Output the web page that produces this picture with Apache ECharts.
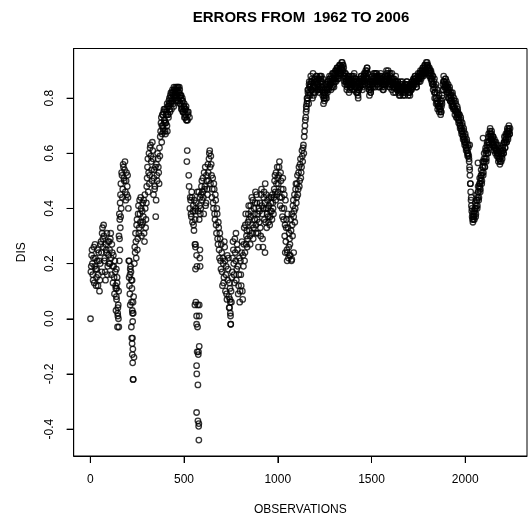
<!DOCTYPE html>
<html>
<head>
<meta charset="utf-8">
<script src="https://cdn.jsdelivr.net/npm/echarts@6/dist/echarts.min.js"></script>
<style>html,body{margin:0;padding:0;background:#fff}#chart{width:529px;height:521px}</style>
</head>
<body>
<div id="chart"></div>
<script>
// Observations are read every 4th index in offset passes: obs = offset + step * i
const obsStep = 4;
// Pass 1 (offset 1): observations 1..597
const disP1a = [
 0.00,0.19,0.25,0.16,0.22,0.13,0.27,0.18,0.15,0.21,0.12,0.24,0.10,0.20,0.28,0.17,0.33,0.26,0.30,0.22,0.14,0.25,0.31,0.19,0.23,
 0.28,0.20,0.31,0.16,0.24,0.13,0.19,0.09,0.17,0.03,0.11,-0.03,0.05,0.30,0.36,0.45,0.40,0.52,0.47,0.55,0.50,0.57,0.43,0.53,0.48,
 0.44,0.21,0.12,0.05,0.17,-0.07,0.02,-0.22,-0.14,0.26,0.31,0.22,0.36,0.29,0.41,0.33,0.38,0.44,0.30,0.39,0.35,0.43,0.28,0.40,0.36,
 0.48,0.55,0.46,0.60,0.52,0.63,0.57,0.50,0.61,0.45,0.54,0.48,0.37,0.56,0.50,0.58,0.53,0.62,0.66,0.71,0.64,0.74,0.69,0.76,0.72,
 0.67,0.74,0.70,0.77,0.73,0.78,0.75,0.80,0.76,0.79,0.82,0.77,0.81,0.83,0.79,0.84,0.82,0.84,0.80,0.83,0.78,0.81,0.76,0.79,0.75,
 0.78,0.74,0.76,0.72,0.61,0.74,0.52,0.73,0.44,0.38,0.46,0.35,0.41,0.32,0.39,0.27,0.42,0.19,0.05,-0.12,0.36,0.44,0.40,0.48,0.43
];
// Pass 1: observations 601..1197
const disP1b = [
 0.51,0.38,0.47,0.55,0.42,0.50,0.45,0.53,0.58,0.61,0.49,0.56,0.44,0.51,0.40,0.47,0.36,0.43,0.31,0.38,0.27,0.33,0.22,0.29,0.18,
 0.24,0.12,0.20,0.15,0.26,0.10,0.19,0.07,0.14,0.22,0.04,0.11,-0.02,0.06,0.17,0.28,0.20,0.13,0.24,0.31,0.18,0.25,0.09,0.16,0.06,
 0.21,0.12,0.28,0.07,0.19,0.33,0.24,0.38,0.30,0.26,0.35,0.41,0.32,0.27,0.37,0.44,0.34,0.29,0.40,0.36,0.46,0.31,0.42,0.38,0.26,
 0.35,0.42,0.30,0.47,0.38,0.26,0.44,0.36,0.49,0.40,0.33,0.43,0.37,0.41,0.34,0.39,0.44,0.36,0.42,0.38,0.47,0.52,0.43,0.49,0.55,
 0.46,0.52,0.57,0.41,0.50,0.44,0.37,0.47,0.40,0.30,0.43,0.33,0.25,0.38,0.22,0.31,0.27,0.36,0.21,0.34,0.41,0.37,0.45,0.40,0.49,
 0.44,0.52,0.47,0.55,0.50,0.58,0.53,0.61,0.57,0.63,0.66,0.70,0.73,0.76,0.79,0.82,0.78,0.84,0.81,0.86,0.83,0.80,0.85,0.82,0.87
];
// Pass 1: observations 1201..1797
const disP1c = [
 0.84,0.88,0.85,0.83,0.87,0.82,0.86,0.84,0.88,0.85,0.87,0.80,0.79,0.83,0.81,0.84,0.82,0.86,0.84,0.87,0.85,0.88,0.86,0.84,0.87,
 0.89,0.86,0.90,0.88,0.91,0.87,0.90,0.92,0.89,0.91,0.93,0.90,0.92,0.88,0.85,0.89,0.86,0.84,0.88,0.85,0.87,0.83,0.86,0.84,0.88,
 0.85,0.88,0.83,0.87,0.84,0.82,0.86,0.80,0.84,0.87,0.85,0.88,0.86,0.84,0.87,0.89,0.86,0.90,0.88,0.91,0.87,0.84,0.81,0.86,0.83,
 0.85,0.88,0.84,0.87,0.89,0.86,0.88,0.85,0.87,0.84,0.88,0.86,0.89,0.85,0.87,0.83,0.86,0.84,0.87,0.85,0.89,0.86,0.90,0.87,0.84,
 0.88,0.85,0.89,0.86,0.82,0.87,0.84,0.88,0.85,0.83,0.86,0.82,0.84,0.81,0.85,0.83,0.86,0.82,0.84,0.81,0.85,0.83,0.86,0.84,0.82,
 0.84,0.81,0.85,0.83,0.86,0.84,0.87,0.85,0.88,0.86,0.84,0.87,0.89,0.86,0.88,0.90,0.87,0.89,0.91,0.88,0.90,0.92,0.89,0.91,0.93
];
// Pass 1: observations 1801..2237
const disP1d = [
 0.92,0.90,0.91,0.88,0.90,0.86,0.88,0.83,0.86,0.80,0.84,0.78,0.82,0.76,0.80,0.75,0.78,0.74,0.77,0.81,0.85,0.88,0.84,0.87,0.83,
 0.86,0.82,0.85,0.80,0.84,0.79,0.82,0.77,0.81,0.76,0.79,0.74,0.78,0.73,0.77,0.75,0.71,0.74,0.69,0.72,0.67,0.70,0.65,0.68,0.63,
 0.66,0.61,0.64,0.59,0.62,0.57,0.52,0.46,0.41,0.37,0.35,0.39,0.36,0.42,0.38,0.45,0.41,0.48,0.44,0.51,0.47,0.54,0.50,0.57,0.53,
 0.60,0.55,0.62,0.58,0.64,0.60,0.67,0.62,0.69,0.65,0.68,0.63,0.66,0.61,0.64,0.60,0.63,0.59,0.61,0.57,0.60,0.56,0.59,0.62,0.58,
 0.63,0.60,0.66,0.62,0.67,0.64,0.69,0.66,0.70,0.67
];
// Pass 2 (offset 3): observations 3..599
const disP2a = [
 0.17,0.23,0.20,0.14,0.26,0.19,0.22,0.12,0.18,0.25,0.16,0.21,0.14,0.27,0.24,0.31,0.29,0.34,0.21,0.17,0.27,0.24,0.16,0.28,0.20,
 0.25,0.29,0.22,0.27,0.19,0.23,0.15,0.21,0.12,0.08,0.15,0.01,0.10,0.38,0.42,0.49,0.53,0.44,0.56,0.51,0.54,0.46,0.50,0.45,0.52,
 0.40,0.15,0.09,0.19,-0.03,0.14,-0.11,0.08,0.20,0.24,0.28,0.34,0.25,0.38,0.31,0.43,0.35,0.40,0.34,0.42,0.37,0.31,0.45,0.33,0.42,
 0.51,0.58,0.53,0.49,0.62,0.59,0.54,0.64,0.58,0.51,0.47,0.55,0.43,0.52,0.60,0.55,0.49,0.59,0.68,0.73,0.67,0.70,0.75,0.71,0.68,
 0.71,0.76,0.68,0.74,0.79,0.76,0.81,0.78,0.82,0.80,0.78,0.83,0.80,0.84,0.81,0.83,0.79,0.82,0.84,0.81,0.80,0.77,0.80,0.75,0.77,
 0.76,0.73,0.77,0.57,0.72,0.75,0.48,0.40,0.43,0.37,0.44,0.39,0.34,0.43,0.36,0.40,0.23,0.46,0.39,0.46,0.41,0.38,0.45,0.50,0.46
];
// Pass 2: observations 603..1199
const disP2b = [
 0.44,0.53,0.48,0.41,0.52,0.47,0.56,0.50,0.60,0.55,0.59,0.52,0.47,0.42,0.49,0.38,0.45,0.34,0.40,0.29,0.35,0.25,0.31,0.21,0.27,
 0.17,0.22,0.13,0.28,0.21,0.16,0.09,0.23,0.18,0.08,0.13,0.02,0.10,0.15,0.22,0.25,0.16,0.29,0.21,0.14,0.27,0.19,0.12,0.22,0.10,
 0.16,0.24,0.10,0.23,0.27,0.21,0.34,0.27,0.32,0.29,0.38,0.36,0.30,0.41,0.39,0.31,0.43,0.33,0.38,0.42,0.34,0.45,0.36,0.31,0.40,
 0.39,0.33,0.45,0.41,0.29,0.40,0.46,0.42,0.35,0.45,0.38,0.40,0.35,0.44,0.37,0.42,0.39,0.45,0.40,0.44,0.50,0.46,0.53,0.45,0.51,
 0.49,0.55,0.44,0.53,0.47,0.40,0.51,0.36,0.45,0.34,0.28,0.36,0.24,0.33,0.26,0.29,0.23,0.32,0.38,0.30,0.43,0.39,0.35,0.47,0.42,
 0.49,0.45,0.53,0.48,0.56,0.51,0.55,0.59,0.62,0.60,0.68,0.72,0.75,0.78,0.80,0.83,0.85,0.82,0.85,0.83,0.87,0.84,0.81,0.86,0.84
];
// Pass 2: observations 1203..1799
const disP2c = [
 0.86,0.83,0.87,0.85,0.84,0.88,0.83,0.87,0.86,0.84,0.82,0.81,0.82,0.80,0.85,0.83,0.85,0.83,0.87,0.85,0.86,0.84,0.87,0.89,0.85,
 0.87,0.89,0.86,0.90,0.88,0.91,0.88,0.90,0.92,0.89,0.91,0.92,0.89,0.86,0.88,0.87,0.85,0.87,0.86,0.88,0.84,0.85,0.87,0.86,0.85,
 0.87,0.85,0.86,0.84,0.86,0.84,0.82,0.83,0.86,0.84,0.87,0.85,0.87,0.85,0.88,0.87,0.89,0.87,0.90,0.89,0.85,0.83,0.84,0.82,0.86,
 0.86,0.85,0.86,0.88,0.87,0.89,0.86,0.88,0.86,0.86,0.87,0.88,0.87,0.86,0.85,0.85,0.85,0.86,0.86,0.87,0.88,0.88,0.89,0.85,0.86,
 0.86,0.87,0.87,0.84,0.85,0.85,0.86,0.86,0.84,0.85,0.84,0.83,0.83,0.83,0.84,0.85,0.84,0.83,0.83,0.83,0.84,0.85,0.85,0.83,0.83,
 0.82,0.83,0.84,0.85,0.85,0.86,0.86,0.87,0.87,0.85,0.86,0.88,0.87,0.87,0.89,0.88,0.88,0.90,0.89,0.89,0.91,0.90,0.90,0.92,0.92
];
// Pass 2: observations 1803..2239
const disP2d = [
 0.91,0.89,0.90,0.89,0.87,0.87,0.85,0.85,0.82,0.82,0.80,0.80,0.78,0.78,0.77,0.77,0.76,0.75,0.79,0.83,0.86,0.86,0.85,0.85,0.84,
 0.84,0.83,0.82,0.82,0.81,0.80,0.79,0.79,0.78,0.77,0.76,0.76,0.75,0.75,0.74,0.73,0.72,0.71,0.70,0.69,0.68,0.67,0.66,0.65,0.64,
 0.63,0.62,0.61,0.60,0.59,0.55,0.49,0.43,0.39,0.36,0.37,0.37,0.39,0.40,0.41,0.43,0.44,0.46,0.48,0.49,0.51,0.52,0.53,0.55,0.57,
 0.57,0.58,0.60,0.61,0.62,0.64,0.64,0.66,0.67,0.66,0.65,0.64,0.63,0.62,0.62,0.61,0.61,0.60,0.59,0.58,0.58,0.57,0.60,0.60,0.61,
 0.61,0.64,0.64,0.65,0.65,0.67,0.67,0.68,0.68,0.69
];
// Pass 3 (dense stretches): observations 382..518
const disP3peak = [
 0.70,0.74,0.68,0.72,0.76,0.71,0.75,0.78,0.74,0.77,0.80,0.78,0.82,0.79,0.83,0.81,0.84,0.82,0.80,0.83,0.81,0.84,0.79,0.82,0.78,
 0.81,0.76,0.79,0.75,0.77,0.73,0.76,0.74,0.72,0.75
];
const disP3peakStart = 382;
// Pass 3: observations 1152..2236
const disP3late = [
 0.77,0.80,0.83,0.81,0.86,0.84,0.88,0.83,0.86,0.89,0.84,0.87,0.82,0.86,0.88,0.85,0.83,0.87,0.84,0.88,0.86,0.83,0.81,0.78,0.80,
 0.82,0.85,0.80,0.83,0.86,0.84,0.88,0.85,0.83,0.87,0.89,0.86,0.84,0.88,0.90,0.87,0.91,0.89,0.87,0.90,0.92,0.89,0.91,0.93,0.90,
 0.91,0.87,0.89,0.86,0.83,0.87,0.85,0.82,0.86,0.84,0.88,0.85,0.83,0.86,0.89,0.84,0.87,0.82,0.85,0.81,0.83,0.86,0.84,0.88,0.86,
 0.83,0.86,0.88,0.85,0.89,0.87,0.91,0.89,0.86,0.83,0.85,0.82,0.84,0.87,0.85,0.89,0.86,0.84,0.87,0.89,0.85,0.88,0.86,0.84,0.87,
 0.88,0.84,0.86,0.83,0.85,0.88,0.86,0.90,0.88,0.85,0.87,0.84,0.89,0.86,0.83,0.85,0.87,0.84,0.86,0.82,0.85,0.83,0.86,0.84,0.81,
 0.83,0.86,0.82,0.84,0.81,0.83,0.85,0.82,0.84,0.86,0.83,0.81,0.84,0.82,0.85,0.83,0.86,0.84,0.87,0.85,0.88,0.86,0.84,0.86,0.88,
 0.87,0.89,0.86,0.88,0.90,0.88,0.91,0.89,0.92,0.90,0.93,0.91,0.89,0.91,0.88,0.90,0.87,0.89,0.85,0.88,0.84,0.87,0.82,0.85,0.79,
 0.83,0.77,0.81,0.76,0.79,0.75,0.78,0.80,0.83,0.86,0.84,0.87,0.85,0.82,0.84,0.80,0.83,0.79,0.81,0.78,0.82,0.77,0.80,0.76,0.79,
 0.75,0.73,0.76,0.72,0.74,0.70,0.73,0.68,0.71,0.66,0.69,0.64,0.67,0.62,0.65,0.60,0.63,0.58,0.54,0.49,0.44,0.40,0.38,0.36,0.38,
 0.40,0.37,0.43,0.40,0.46,0.43,0.49,0.46,0.52,0.49,0.55,0.52,0.58,0.55,0.61,0.57,0.63,0.60,0.66,0.63,0.68,0.65,0.67,0.64,0.66,
 0.63,0.65,0.62,0.64,0.61,0.63,0.60,0.62,0.58,0.61,0.57,0.59,0.62,0.60,0.64,0.62,0.66,0.64,0.68,0.65,0.69,0.67
];
const disP3lateStart = 1152;
// Additional individual observations [observation, DIS] (sparse excursions)
const extraPoints = [
 [136,0.11],[140,0.07],[143,0.13],[146,0.02],[147,0.04],[150,0.00],[152,-0.03],[139,0.18],[155,0.21],[158,0.25],[160,0.33],[162,0.37],[156,0.29],
 [208,0.21],[213,0.18],[219,0.14],[222,0.11],[228,0.06],[224,0.03],[229,0.02],[226,-0.01],[225,-0.07],[223,-0.09],[224,-0.13],[226,-0.16],[228,-0.22],[212,0.16],[220,0.06],
 [558,0.27],[561,0.26],[585,0.25],[584,0.22],[586,0.19],[561,0.18],[563,0.06],[558,0.05],[581,0.05],[567,0.01],[581,0.01],[567,-0.02],[572,-0.03],[581,-0.10],[570,-0.12],[576,-0.13],[567,-0.17],[568,-0.20],[574,-0.24],[567,-0.34],[574,-0.37],[579,-0.38],[578,-0.39],[579,-0.44],
 [745,0.07],[743,0.04],[748,0.01],[749,-0.02],[747,0.06],
 [932,0.24],[1040,0.24],[1050,0.21],[1062,0.23],[1075,0.215],[1085,0.24],
 [1935,0.77],[1961,0.745],[2015,0.595],[2024,0.63],[2068,0.565],[2077,0.475],[2082,0.50],[2095,0.655]
];
const xTicks = [0, 500, 1000, 1500, 2000];
const yTicks = [-0.4, -0.2, 0.0, 0.2, 0.4, 0.6, 0.8];
const titleText = 'ERRORS FROM  1962 TO 2006';
const xTitle = 'OBSERVATIONS';
const yTitle = 'DIS';

const X_MIN = -88.6, X_MAX = 2329.6, Y_MIN = -0.4977, Y_MAX = 0.98;

const withObs = (arr, start) => arr.map((v, i) => [start + obsStep * i, v]);
const points = []
  .concat(withObs(disP1a.concat(disP1b, disP1c, disP1d), 1))
  .concat(withObs(disP2a.concat(disP2b, disP2c, disP2d), 3))
  .concat(withObs(disP3peak, disP3peakStart))
  .concat(withObs(disP3late, disP3lateStart))
  .concat(extraPoints);

const FONT = 'Liberation Sans, Arial, Helvetica, sans-serif';
const chart = echarts.init(document.getElementById('chart'), null, {renderer: 'canvas'});
chart.setOption({
  animation: false,
  backgroundColor: '#fff',
  graphic: [{
    type: 'text', x: 301, y: 18, silent: true,
    style: {text: titleText, textAlign: 'center', textVerticalAlign: 'middle',
            font: 'bold 15px ' + FONT, fill: '#000'}
  }],
  grid: {left: 73.7, right: 2, top: 48.5, bottom: 63, show: true, borderColor: '#000', borderWidth: 1, backgroundColor: 'transparent'},
  xAxis: {
    type: 'value', min: X_MIN, max: X_MAX, position: 'bottom',
    splitLine: {show: false},
    axisLine: {show: true, onZero: false, lineStyle: {color: '#000', width: 1}},
    axisTick: {show: true, inside: false, length: 7, customValues: xTicks, lineStyle: {color: '#000', width: 1}},
    axisLabel: {show: true, customValues: xTicks, margin: 18, fontFamily: FONT, fontSize: 12, color: '#000', formatter: v => String(v)},
    name: xTitle, nameLocation: 'middle', nameGap: 48,
    nameTextStyle: {fontFamily: FONT, fontSize: 12, color: '#000'}
  },
  yAxis: {
    type: 'value', min: Y_MIN, max: Y_MAX, position: 'left',
    splitLine: {show: false},
    axisLine: {show: true, onZero: false, lineStyle: {color: '#000', width: 1}},
    axisTick: {show: true, inside: false, length: 7, customValues: yTicks, lineStyle: {color: '#000', width: 1}},
    axisLabel: {show: true, customValues: yTicks, rotate: 90, margin: 18, fontFamily: FONT, fontSize: 12, color: '#000', formatter: v => v.toFixed(1)},
    name: yTitle, nameLocation: 'middle', nameGap: 46, nameRotate: 90,
    nameTextStyle: {fontFamily: FONT, fontSize: 12, color: '#000'}
  },
  series: [{
    type: 'scatter',
    data: points,
    symbol: 'circle',
    symbolSize: 5.5,
    itemStyle: {color: 'rgba(0,0,0,0)', borderColor: '#000', borderWidth: 1.3},
    emphasis: {disabled: true},
    silent: true
  }, {
    // outward tick marks under the x axis at the tick values
    type: 'scatter', clip: false, silent: true,
    data: xTicks.map(v => [v, Y_MIN]),
    symbol: 'rect', symbolSize: [1, 7], symbolOffset: [0, 3.5],
    itemStyle: {color: '#000'}, emphasis: {disabled: true}
  }, {
    // outward tick marks left of the y axis at the tick values
    type: 'scatter', clip: false, silent: true,
    data: yTicks.map(v => [X_MIN, v]),
    symbol: 'rect', symbolSize: [7, 1], symbolOffset: [-3.5, 0],
    itemStyle: {color: '#000'}, emphasis: {disabled: true}
  }]
});
</script>
</body>
</html>
